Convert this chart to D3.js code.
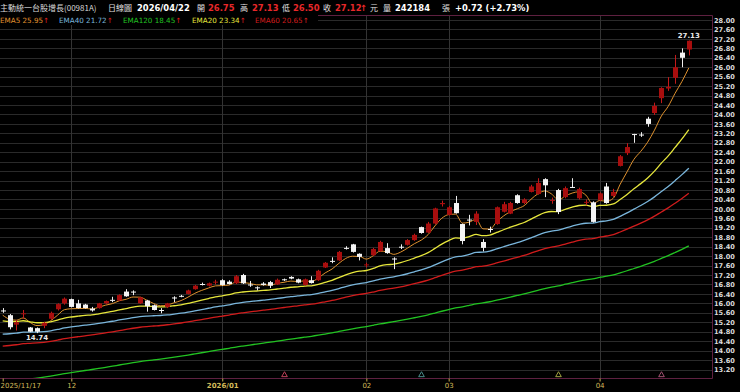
<!DOCTYPE html>
<html>
<head>
<meta charset="utf-8">
<script src="https://cdn.jsdelivr.net/npm/d3@7/dist/d3.min.js"></script>
<style>
body { margin: 0; background: #000; }
svg { display: block; }
.cjk { font-family: "Noto Sans CJK TC", "Noto Sans CJK SC", sans-serif; }
.num { font-family: "DejaVu Sans", Verdana, sans-serif; font-weight: bold; }
</style>
</head>
<body>
<svg id="chart" width="740" height="392"></svg>
<script>
// --- data ---
var opens  = [15.70,15.50,15.10,15.55,14.98,14.95,15.05,15.35,15.75,16.00,
              16.18,16.00,15.95,15.78,15.80,16.00,16.15,16.12,16.50,16.50,
              16.00,16.12,15.92,15.72,15.85,16.25,16.32,16.40,16.60,16.82,
              16.75,16.88,16.98,16.92,16.85,17.20,16.80,16.68,16.84,16.90,
              16.80,17.02,17.12,17.02,16.78,16.98,16.98,17.52,17.80,17.82,
              18.35,18.50,18.10,17.62,18.04,18.21,18.34,17.90,18.40,18.48,
              18.68,19.23,19.00,19.38,20.20,19.75,20.25,19.36,19.55,19.45,
              18.60,19.15,19.36,19.88,19.80,20.58,20.25,20.72,20.63,21.26,
              20.35,20.80,20.50,20.93,20.45,20.27,20.28,20.38,20.95,20.55,
              21.82,22.36,23.17,23.15,23.82,24.06,24.69,25.10,25.55,26.62,
              26.75];
var highs  = [15.80,15.55,15.30,15.72,15.00,14.98,15.22,15.65,16.00,16.25,
              16.20,16.15,15.98,15.85,16.02,16.12,16.28,16.38,16.60,16.55,
              16.28,16.15,15.95,15.80,16.02,16.30,16.36,16.58,16.78,16.88,
              16.88,17.00,17.02,16.98,17.20,17.25,16.95,16.72,16.90,16.95,
              17.05,17.05,17.15,17.05,17.05,17.15,17.42,17.75,17.95,18.22,
              18.42,18.52,18.12,17.72,18.35,18.65,18.55,17.95,18.50,18.72,
              18.95,19.25,19.45,20.05,20.35,20.12,20.55,19.38,19.75,19.90,
              18.72,19.25,20.10,20.30,20.30,20.62,20.45,21.02,21.30,21.30,
              20.48,20.85,20.95,21.30,20.90,20.40,20.32,20.70,21.10,20.85,
              22.28,22.78,23.18,23.25,23.90,24.50,25.15,25.58,26.52,26.80,
              27.13];
var lows   = [15.60,14.90,14.85,15.35,14.78,14.74,14.95,15.30,15.70,15.95,
              15.83,15.78,15.78,15.65,15.78,15.98,16.05,16.10,16.28,16.35,
              15.98,15.65,15.70,15.58,15.80,16.05,16.26,16.38,16.58,16.76,
              16.72,16.80,16.75,16.80,16.82,16.82,16.70,16.55,16.75,16.65,
              16.78,16.95,17.02,16.85,16.75,16.84,16.95,17.50,17.70,17.80,
              18.28,18.15,17.82,17.52,18.00,18.18,18.10,17.45,18.30,18.45,
              18.65,18.95,18.98,19.35,20.10,19.72,19.80,18.50,19.30,19.32,
              18.20,19.00,19.33,19.85,19.78,20.22,20.20,20.70,20.60,20.50,
              20.22,19.78,20.45,20.90,20.40,20.15,19.42,20.33,20.22,20.50,
              21.80,22.28,22.80,23.05,23.48,23.98,24.48,25.00,25.30,26.00,
              26.50];
var closes = [15.66,14.99,15.20,15.58,14.80,14.80,15.18,15.60,15.97,16.20,
              15.85,15.80,15.80,15.70,16.00,16.10,16.12,16.35,16.30,16.46,
              16.25,15.88,15.72,15.70,16.00,16.22,16.30,16.55,16.75,16.80,
              16.85,16.92,16.78,16.82,17.15,16.85,16.78,16.66,16.78,16.75,
              17.00,16.98,17.05,16.88,17.02,16.86,17.38,17.72,17.78,18.18,
              18.32,18.18,17.97,17.65,18.30,18.60,18.13,17.86,18.36,18.68,
              18.90,18.98,19.38,20.02,20.25,20.07,19.82,18.64,19.52,19.80,
              18.35,19.12,20.07,20.20,20.25,20.25,20.40,20.95,21.10,21.00,
              20.38,19.87,20.88,20.92,20.84,20.30,19.45,20.66,20.25,20.72,
              22.23,22.62,23.15,23.12,23.60,24.36,25.12,25.17,26.00,26.40,
              27.12];

var xTickIdx    = [0, 10, 32, 53, 65, 87];
var xTickLabels = ["2025/11/17", "12", "2026/01", "02", "03", "04"];
var yTicks = [13.20,13.60,14.00,14.40,14.80,15.20,15.60,16.00,16.40,16.80,
              17.20,17.60,18.00,18.40,18.80,19.20,19.60,20.00,20.40,20.80,
              21.20,21.60,22.00,22.40,22.80,23.20,23.60,24.00,24.40,24.80,
              25.20,25.60,26.00,26.40,26.80,27.20,27.60,28.00];

var emaNames   = ["EMA5", "EMA40", "EMA120", "EMA20", "EMA60"];
var emaPeriods = [5, 40, 120, 20, 60];
var emaStart   = [15.50, 14.70, 12.64, 15.26, 14.19];
var emaLegend  = ["25.95", "21.72", "18.45", "23.34", "20.65"];
var emaColors  = ["#e0922e", "#7ab6dc", "#22c322", "#e6e63c", "#d01c1c"];

var markerIdx    = [41, 61, 81, 96];
var markerColors = ["#c0405a", "#4a8a8a", "#a0a040", "#a05070"];

var title = "主動統一台股增長(00981A)";
var lastDate = "2026/04/22";
var volume = "242184";
var change = "+0.72 (+2.73%)";

// --- layout ---
var W = 740, H = 392;
var plot = {left: 0, right: 712, top: 15, bottom: 378};

var svg = d3.select("#chart");
svg.append("rect").attr("width", W).attr("height", H).attr("fill", "#000");

var x = d3.scaleLinear().domain([0, closes.length - 1]).range([2.7, 688.8]);
var y = d3.scaleLinear().domain([13.2, 28]).range([369.5, 20]);

function ema(values, period, seed) {
    var a = 2 / (period + 1), e = seed;
    return values.map(function(v, i) {
        if (i > 0) e = e + a * (v - e);
        return e;
    });
}

svg.append("clipPath").attr("id", "clip")
    .append("rect")
    .attr("x", plot.left).attr("y", plot.top)
    .attr("width", plot.right - plot.left).attr("height", plot.bottom - plot.top);

// grid
svg.append("g").selectAll("line").data(yTicks).enter().append("line")
    .attr("x1", plot.left).attr("x2", plot.right)
    .attr("y1", function(d) { return Math.round(y(d)) + 0.5; })
    .attr("y2", function(d) { return Math.round(y(d)) + 0.5; })
    .attr("stroke", "#2a2a2a");

svg.append("g").selectAll("line").data(xTickIdx.slice(1)).enter().append("line")
    .attr("x1", function(d) { return Math.round(x(d)) + 0.5; })
    .attr("x2", function(d) { return Math.round(x(d)) + 0.5; })
    .attr("y1", plot.top).attr("y2", plot.bottom)
    .attr("stroke", "#333");

var g = svg.append("g").attr("clip-path", "url(#clip)");

// EMA lines
emaNames.forEach(function(name, k) {
    var vals = ema(closes, emaPeriods[k], emaStart[k]);
    var line = d3.line()
        .x(function(d, i) { return x(i); })
        .y(function(d) { return y(d); })
        .curve(d3.curveMonotoneX);
    g.append("path")
        .datum(vals)
        .attr("fill", "none")
        .attr("stroke", emaColors[k])
        .attr("stroke-width", k === 0 ? 1 : 1.3)
        .attr("d", line);
});

// candles
var candles = g.append("g").selectAll("g").data(closes).enter().append("g");

candles.append("line")
    .attr("x1", function(d, i) { return Math.round(x(i)) + 0.5; })
    .attr("x2", function(d, i) { return Math.round(x(i)) + 0.5; })
    .attr("y1", function(d, i) { return y(highs[i]); })
    .attr("y2", function(d, i) { return y(lows[i]); })
    .attr("stroke", function(d, i) { return d >= opens[i] ? "#c41a1a" : "#eeeeee"; });

candles.append("rect")
    .attr("x", function(d, i) { return Math.round(x(i)) - 2; })
    .attr("width", 5)
    .attr("y", function(d, i) { return y(Math.max(d, opens[i])); })
    .attr("height", function(d, i) { return Math.max(1, Math.abs(y(d) - y(opens[i]))); })
    .attr("fill", function(d, i) { return d >= opens[i] ? "#a80e0e" : "#f4f4f4"; });

// low / high labels
var iLow = d3.minIndex(lows), iHigh = d3.maxIndex(highs);
svg.append("text").attr("class", "num")
    .attr("x", x(iLow)).attr("y", y(lows[iLow]) + 7)
    .attr("text-anchor", "middle").attr("font-size", 7).attr("fill", "#e8e8e8")
    .text(lows[iLow].toFixed(2));
svg.append("text").attr("class", "num")
    .attr("x", x(iHigh)).attr("y", y(highs[iHigh]) - 2.5)
    .attr("text-anchor", "middle").attr("font-size", 7).attr("fill", "#e8e8e8")
    .text(highs[iHigh].toFixed(2));

// markers on the time axis
svg.append("g").selectAll("path").data(markerIdx).enter().append("path")
    .attr("transform", function(d) { return "translate(" + (Math.round(x(d)) + 0.5) + "," + (plot.bottom - 3) + ")"; })
    .attr("d", d3.symbol().type(d3.symbolTriangle).size(14))
    .attr("fill", "none")
    .attr("stroke", function(d, i) { return markerColors[i]; });

// frame
svg.append("path")
    .attr("d", "M" + plot.left + "," + (plot.top + 0.5) + "H" + (plot.right + 0.5) + "V" + (plot.bottom + 0.5) + "H" + plot.left)
    .attr("fill", "none").attr("stroke", "#5e2040");

// axes
var yAxis = d3.axisRight(y).tickValues(yTicks).tickFormat(d3.format(".2f")).tickSize(0).tickPadding(2);
var ya = svg.append("g").attr("transform", "translate(" + plot.right + ",0)").call(yAxis);
ya.select(".domain").remove();
ya.selectAll("text").attr("class", "num").attr("font-size", 6.6).attr("fill", "#dcdcdc");

var xAxis = d3.axisBottom(x).tickValues(xTickIdx)
    .tickFormat(function(d, i) { return xTickLabels[i]; })
    .tickSizeInner(3).tickSizeOuter(0).tickPadding(2);
var xa = svg.append("g").attr("transform", "translate(0," + (plot.bottom + 0.5) + ")").call(xAxis);
xa.select(".domain").remove();
xa.selectAll("line").attr("stroke", "#c8b050");
xa.selectAll("text")
    .attr("font-family", "DejaVu Sans, sans-serif").attr("font-size", 7).attr("fill", "#d4bc5a")
    .attr("font-weight", function(d, i) { return xTickLabels[i] === "2026/01" ? "bold" : "normal"; });
xa.select(".tick text").attr("text-anchor", "start").attr("x", -x(0));

// legend row
svg.append("rect").attr("x", 0).attr("y", 13).attr("width", 318).attr("height", 12).attr("fill", "#000");
var legX = [0, 59, 123, 192, 255];
emaNames.forEach(function(name, k) {
    var t = svg.append("text").attr("x", legX[k]).attr("y", 23)
        .attr("font-family", "DejaVu Sans, sans-serif").attr("font-size", 7.2)
        .attr("fill", emaColors[k]);
    t.append("tspan").text(name + " " + emaLegend[k]);
    t.append("tspan").attr("fill", "#e02020").text("↑");
});

// header row
var head = [
    {x: 0,   t: title,     c: "#d8d8d8", cls: "cjk"},
    {x: 108, t: "日線圖",  c: "#e0e0e0", cls: "cjk"},
    {x: 137, t: lastDate,  c: "#ffffff", cls: "num"},
    {x: 197, t: "開",      c: "#e0e0e0", cls: "cjk"},
    {x: 208, t: opens[opens.length - 1].toFixed(2),  c: "#e8282a", cls: "num"},
    {x: 240, t: "高",      c: "#e0e0e0", cls: "cjk"},
    {x: 252, t: highs[highs.length - 1].toFixed(2),  c: "#e8282a", cls: "num"},
    {x: 282, t: "低",      c: "#e0e0e0", cls: "cjk"},
    {x: 293, t: lows[lows.length - 1].toFixed(2),    c: "#e8282a", cls: "num"},
    {x: 323, t: "收",      c: "#e0e0e0", cls: "cjk"},
    {x: 335, t: closes[closes.length - 1].toFixed(2), c: "#e8282a", cls: "num"},
    {x: 360, t: "↑",       c: "#e8282a", cls: "num"},
    {x: 370, t: "元",      c: "#e0e0e0", cls: "cjk"},
    {x: 383, t: "量",      c: "#e0e0e0", cls: "cjk"},
    {x: 395, t: volume,    c: "#ffffff", cls: "num"},
    {x: 442, t: "張",      c: "#e0e0e0", cls: "cjk"},
    {x: 455, t: change,    c: "#ffffff", cls: "num"}
];
svg.append("g").selectAll("text").data(head).enter().append("text")
    .attr("class", function(d) { return d.cls; })
    .attr("x", function(d) { return d.x; })
    .attr("y", 11)
    .attr("font-size", function(d) { return d.cls === "cjk" ? 8 : 8.4; })
    .attr("fill", function(d) { return d.c; })
    .text(function(d) { return d.t; });
</script>
</body>
</html>
